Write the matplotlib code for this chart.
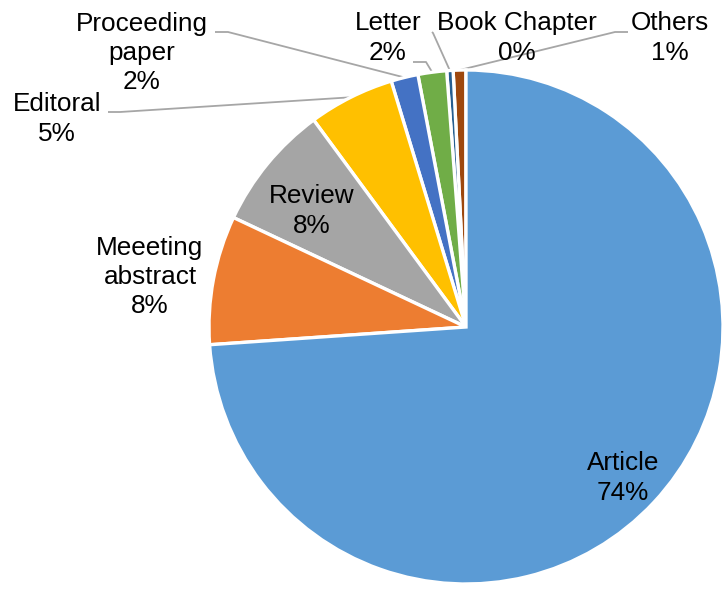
import numpy as np
import matplotlib
matplotlib.use("Agg")
import matplotlib.pyplot as plt

plt.rcParams['font.family'] = ['Liberation Sans', 'DejaVu Sans']

# Data (clockwise from 12 o'clock as in the reference)
categories = ["Others", "Book Chapter", "Letter", "Proceeding\npaper", "Editoral",
              "Review", "Meeeting\nabstract", "Article"]
values = [0.8, 0.4, 1.8, 1.7, 5.4, 7.9, 8.1, 73.9]
colors = ["#9E480E", "#255E91", "#70AD47", "#4472C4", "#FFC000",
          "#A5A5A5", "#ED7D31", "#5B9BD5"]

W, H = 723, 594
fig = plt.figure(figsize=(W / 100, H / 100), dpi=100)
ax = fig.add_axes([0, 0, 1, 1])

cx, cy, R = 466, H - 327, 257
wedges, _ = ax.pie(values, colors=colors, startangle=90, counterclock=True,
                   center=(cx, cy), radius=R,
                   wedgeprops=dict(edgecolor="white", linewidth=2.4))
ax.set_xlim(0, W)
ax.set_ylim(0, H)
ax.set_aspect('equal')
ax.axis('off')

total = sum(values)
pct = [f"{v / total * 100:.0f}%" for v in values]

# label positions (pixel coords, y from top)
label_pos = {
    "Article": (623, 478),
    "Meeeting\nabstract": (150, 277),
    "Review": (312, 211),
    "Editoral": (57, 119),
    "Proceeding\npaper": (142, 53),
    "Letter": (388, 38),
    "Book Chapter": (517, 38),
    "Others": (670, 38),
}
# leader lines: (start point near label, knee point)
leaders = {
    "Proceeding\npaper": [(215, 32), (228, 32)],
    "Editoral": [(108, 112), (120, 112)],
    "Letter": [(413, 62), (426, 62)],
    "Book Chapter": [(432, 32), (433, 33)],
    "Others": [(628, 32), (615, 32)],
}

for w, cat, p in zip(wedges, categories, pct):
    x, y = label_pos[cat]
    ax.text(x, H - y, f"{cat}\n{p}", ha="center", va="center", fontsize=18.8,
            color="black", linespacing=1.27)
    if cat in leaders:
        mid = np.deg2rad((w.theta1 + w.theta2) / 2)
        ex, ey = cx + R * np.cos(mid), cy + R * np.sin(mid)
        (sx, sy), (kx, ky) = leaders[cat]
        ax.plot([sx, kx, ex], [H - sy, H - ky, ey], color="#A6A6A6", lw=1.3,
                solid_capstyle="butt", zorder=0.5)

fig.savefig("out.png", dpi=100, facecolor="white")
